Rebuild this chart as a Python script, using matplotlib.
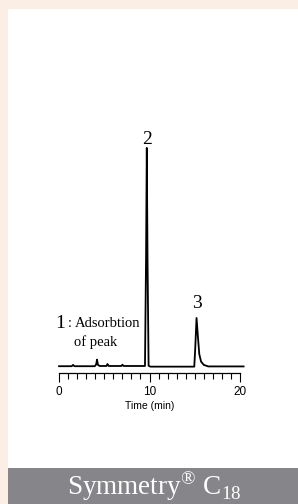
import numpy as np
import matplotlib
matplotlib.use("Agg")
from matplotlib import pyplot as plt
from matplotlib.patches import Rectangle

# chromatogram trace (time in min, signal in % of peak 2)
time = [0.0, 1.4, 1.55, 1.7, 3.95, 4.1, 4.2, 4.3, 4.5, 5.25, 5.35, 5.5,
        6.9, 7.0, 7.15, 9.5, 9.62, 9.7, 9.78, 9.9, 10.1, 14.95, 15.05,
        15.2, 15.35, 15.5, 15.7, 16.0, 16.5, 20.4]
signal = [0.4, 0.4, 1.0, 0.4, 0.4, 1.2, 3.4, 1.0, 0.5, 0.5, 1.4, 0.5,
          0.5, 1.1, 0.5, 0.5, 50, 100, 50, 0.6, 0.2, 0.2, 8,
          22.4, 14, 6, 2.5, 1.0, 0.3, 0.3]

peak_labels = ["2", "3"]
peak_times = [9.7, 15.2]
peak_label_y = [104, 29]

x_ticks = [0, 10, 20]

serif = "Liberation Serif"
sans = "Liberation Sans"
plt.rcParams["mathtext.fontset"] = "custom"
plt.rcParams["mathtext.rm"] = serif

fig = plt.figure(figsize=(2.98, 5.04), dpi=100)
fig.patch.set_facecolor("#fbeee4")

# white panel and grey title strip
W, H = 298, 504
fig.patches.append(Rectangle((8 / W, 36 / H), 290 / W, 459 / H,
                             transform=fig.transFigure, facecolor="white",
                             edgecolor="none", zorder=-2))
fig.patches.append(Rectangle((8 / W, 0), 290 / W, 36 / H,
                             transform=fig.transFigure, facecolor="#85858a",
                             edgecolor="none", zorder=-2))

# axes placed so that 0 min -> x=59px, 20 min -> 240px, baseline at y=367px
ax = fig.add_axes([50 / W, 115 / H, 199 / W, 263 / H])
ax.set_zorder(2)
ax.set_xlim(-1, 21)
ax.set_ylim(-10, 110)
ax.patch.set_alpha(0)

ax.plot(time, signal, color="black", lw=1.3, solid_joinstyle="round")

for lab, t, y in zip(peak_labels, peak_times, peak_label_y):
    ax.text(t, y, lab, ha="center", va="center", fontsize=14, family=serif)

ax.text(0.1, 20, "1", ha="center", va="center", fontsize=14, family=serif)
ax.text(1.2, 20, ":", ha="center", va="center", fontsize=10, family=serif)
ax.text(1.7, 20, "Adsorbtion", ha="left", va="center", fontsize=10.5,
        family=serif)
ax.text(1.7, 11.3, "of peak", ha="left", va="center", fontsize=10.5,
        family=serif)

for s in ["left", "right", "top"]:
    ax.spines[s].set_visible(False)
ax.spines["bottom"].set_position(("data", -2.8))
ax.spines["bottom"].set_bounds(-0.05, 20.05)
ax.spines["bottom"].set_linewidth(0.9)
ax.set_yticks([])
ax.set_xticks(x_ticks)
ax.set_xticks(np.arange(0, 21, 1), minor=True)
ax.tick_params(axis="x", which="major", direction="out", length=6.5,
               width=0.8, pad=3, labelsize=8.5)
ax.tick_params(axis="x", which="minor", direction="out", length=4.5,
               width=0.8)
for lbl in ax.get_xticklabels():
    lbl.set_family(sans)
ax.set_xlabel("Time (min)", fontsize=7.5, family=sans, labelpad=2)

fig.text(154 / W, 18 / H, r"$\mathrm{Symmetry}^{®}\;\mathrm{C}_{18}$",
         ha="center", va="center", fontsize=19.5, color="white")

fig.savefig("out.png", dpi=100, facecolor=fig.get_facecolor())
